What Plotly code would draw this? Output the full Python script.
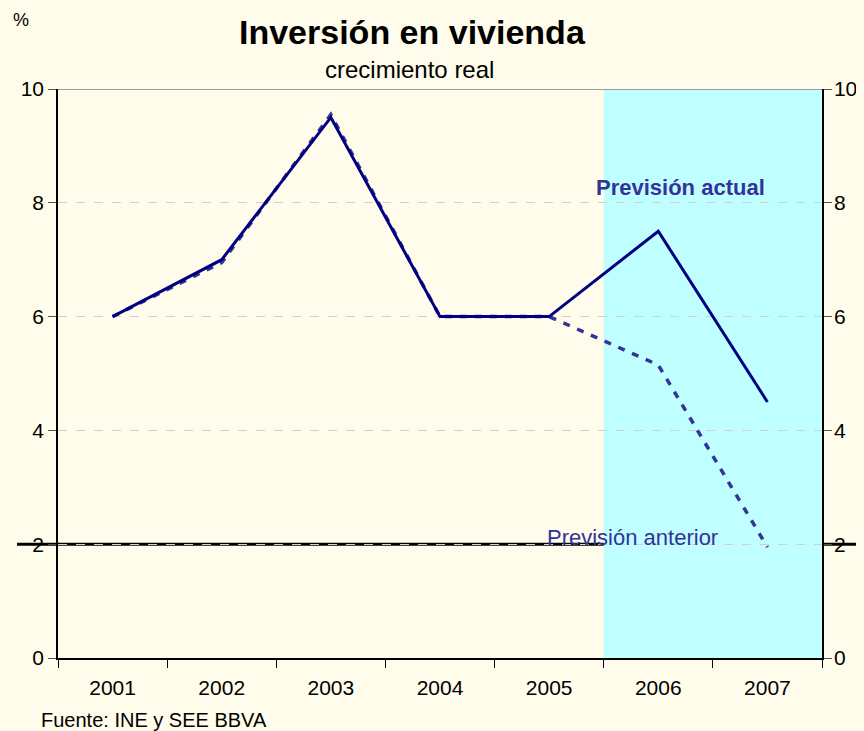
import plotly.graph_objects as go

years = ["2001", "2002", "2003", "2004", "2005", "2006", "2007"]
prevision_actual = [6.0, 7.0, 9.5, 6.0, 6.0, 7.5, 4.5]
prevision_anterior = [6.0, 6.95, 9.55, 6.0, 6.0, 5.15, 1.95]
y_ticks = [0, 2, 4, 6, 8, 10]

BG = "#FFFCEB"
NAVY = "#000080"
BLUE = "#333399"
FONT = "Liberation Sans, Arial, sans-serif"

# the page body keeps its 8px margin, so the figure is 8px smaller and the
# plot box still lands at x 58..822, y 89..658 in the window
PLOT_L, PLOT_R, PLOT_T, PLOT_B = 58, 822, 89, 658
FIG_W, FIG_H = 856, 723


def px(x, y):
    """window pixel -> paper coordinates of the plot box"""
    return (x - PLOT_L) / (PLOT_R - PLOT_L), (PLOT_B - y) / (PLOT_B - PLOT_T)


fig = go.Figure()
fig.add_trace(go.Scatter(x=years, y=prevision_anterior, mode="lines",
                         line=dict(color=BLUE, width=3.5, dash="7px,8px"),
                         showlegend=False, hoverinfo="skip"))
fig.add_trace(go.Scatter(x=years, y=prevision_actual, mode="lines",
                         line=dict(color=NAVY, width=3),
                         showlegend=False))
# invisible trace to carry the right-hand axis
fig.add_trace(go.Scatter(x=years, y=prevision_actual, yaxis="y2", mode="lines",
                         line=dict(width=0), opacity=0, showlegend=False, hoverinfo="skip"))

# thick line at 2 running across the whole picture, then the forecast shading over it
fig.add_shape(type="line", xref="paper", yref="y", x0=px(17, 0)[0], x1=1.06, y0=2, y1=2,
              line=dict(color="black", width=3), layer="below")
fig.add_shape(type="rect", xref="x", yref="y", x0=4.5, x1=6.5, y0=0, y1=10,
              fillcolor="#C0FFFF", line=dict(width=0), layer="below")
fig.add_shape(type="line", xref="paper", yref="y", x0=0, x1=1, y0=10, y1=10,
              line=dict(color="#808080", width=1.5))


def note(text, x, y, size, **kw):
    xp, yp = px(x, y)
    return dict(text=text, xref="paper", yref="paper", x=xp, y=yp,
                xanchor=kw.pop("xanchor", "center"), yanchor="middle",
                showarrow=False, font=dict(size=size, **kw))


fig.update_layout(
    width=FIG_W, height=FIG_H,
    paper_bgcolor=BG, plot_bgcolor=BG,
    margin=dict(l=PLOT_L - 8, r=FIG_W + 8 - PLOT_R, t=PLOT_T - 8, b=FIG_H + 8 - PLOT_B),
    font=dict(family=FONT, size=21, color="black"),
    xaxis=dict(type="category", range=[-0.5, 6.5], tickson="boundaries",
               ticks="outside", ticklen=8, tickcolor="black", showline=True,
               linecolor="black", linewidth=1.5, showgrid=False, automargin=False,
               ticklabelstandoff=10, tickfont=dict(size=21)),
    yaxis=dict(range=[0, 10], tickvals=y_ticks, ticks="outside", ticklen=8,
               tickcolor="#555555", showline=True, linecolor="black", linewidth=1.5,
               showgrid=True, gridcolor="#D0D0D0", griddash="dash", gridwidth=1,
               zeroline=False, automargin=False, tickfont=dict(size=21)),
    yaxis2=dict(range=[0, 10], tickvals=y_ticks, overlaying="y", side="right",
                ticks="outside", ticklen=8, tickcolor="#555555", showline=True,
                linecolor="black", linewidth=1.5, showgrid=False, zeroline=False,
                automargin=False, ticklabelstandoff=-2, tickfont=dict(size=21)),
    annotations=[
        note("<b>Inversión en vivienda</b>", 412, 32, 34),
        note("crecimiento real", 409, 70, 24),
        note("%", 21, 20, 18),
        note("Fuente: INE y SEE BBVA", 39, 720, 20, xanchor="left"),
        note("<b>Previsión actual</b>", 680, 187, 22, color=BLUE),
        note("Previsión anterior", 632, 537, 22, color=BLUE),
    ],
)

fig.write_html("out.html", config={"displayModeBar": False},
               post_script="document.body.style.background='" + BG + "';")
